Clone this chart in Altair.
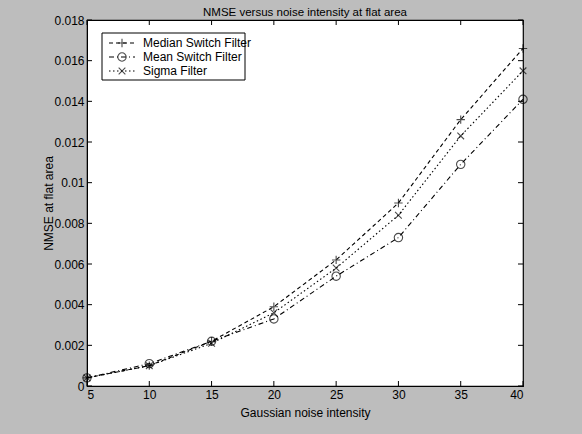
import altair as alt
import pandas as pd

# ---- data ----
noise = [5, 10, 15, 20, 25, 30, 35, 40]
median_switch = [0.0004, 0.0010, 0.0022, 0.0039, 0.0062, 0.0090, 0.0131, 0.0166]
mean_switch = [0.0004, 0.0011, 0.0022, 0.0033, 0.0054, 0.0073, 0.0109, 0.0141]
sigma_filter = [0.0004, 0.0010, 0.0021, 0.0036, 0.0058, 0.0084, 0.0123, 0.0155]
series_names = ["Median Switch Filter", "Mean Switch Filter", "Sigma Filter"]
x_ticks = [5, 10, 15, 20, 25, 30, 35, 40]
y_ticks = [0, 0.002, 0.004, 0.006, 0.008, 0.01, 0.012, 0.014, 0.016, 0.018]

rows = []
for name, vals in zip(series_names, [median_switch, mean_switch, sigma_filter]):
    for xv, yv in zip(noise, vals):
        rows.append({"noise": xv, "nmse": yv, "series": name})
df = pd.DataFrame(rows)

W, H = 436, 366
FONT = "Liberation Sans"

dashes = [[4, 3], [5, 3, 1, 3], [1.5, 2.5]]
plus = "M-1,0L1,0M0,-1L0,1"
cross = "M-0.8,-0.8L0.8,0.8M-0.8,0.8L0.8,-0.8"
shapes = [plus, "circle", cross]

xs = alt.Scale(domain=[5, 40], nice=False, zero=False)
ys = alt.Scale(domain=[0, 0.018], nice=False)

base = alt.Chart(df)
lines = base.mark_line(color="black", strokeWidth=1.1).encode(
    x=alt.X("noise:Q", scale=xs,
            axis=alt.Axis(values=x_ticks, ticks=False, title="Gaussian noise intensity",
                          labelPadding=3, titlePadding=7)),
    y=alt.Y("nmse:Q", scale=ys,
            axis=alt.Axis(values=y_ticks, ticks=False, title="NMSE at flat area",
                          labelExpr="datum.value == 0 ? '0' : format(datum.value, '.3~f')",
                          labelPadding=3, titlePadding=-2)),
    strokeDash=alt.StrokeDash("series:N", scale=alt.Scale(domain=series_names, range=dashes), legend=None),
    detail="series:N",
)
points = base.mark_point(color="black", filled=False, strokeWidth=1.1, size=70).encode(
    x=alt.X("noise:Q", scale=xs),
    y=alt.Y("nmse:Q", scale=ys),
    shape=alt.Shape("series:N", scale=alt.Scale(domain=series_names, range=shapes), legend=None),
)

# inward tick marks on all four sides (MATLAB style)
xt = pd.DataFrame({"noise": x_ticks})
yt = pd.DataFrame({"nmse": y_ticks})
xt_bottom = alt.Chart(xt).mark_rule(color="black").encode(
    x=alt.X("noise:Q", scale=xs), y=alt.value(H), y2=alt.value(H - 5))
xt_top = alt.Chart(xt).mark_rule(color="black").encode(
    x=alt.X("noise:Q", scale=xs), y=alt.value(0), y2=alt.value(5))
yt_left = alt.Chart(yt).mark_rule(color="black").encode(
    y=alt.Y("nmse:Q", scale=ys), x=alt.value(0), x2=alt.value(5))
yt_right = alt.Chart(yt).mark_rule(color="black").encode(
    y=alt.Y("nmse:Q", scale=ys), x=alt.value(W), x2=alt.value(W - 5))

# legend box
one = pd.DataFrame({"k": [0]})
legend_layers = [
    alt.Chart(one).mark_rect(fill="white", stroke="black", strokeWidth=1).encode(
        x=alt.value(15), x2=alt.value(158), y=alt.value(13), y2=alt.value(60))
]
for i, name in enumerate(series_names):
    yy = 23 + i * 14
    legend_layers.append(
        alt.Chart(one).mark_rule(color="black", strokeWidth=1.1, strokeDash=dashes[i]).encode(
            x=alt.value(22), x2=alt.value(48), y=alt.value(yy)))
    legend_layers.append(
        alt.Chart(one).mark_point(color="black", filled=False, strokeWidth=1.1, size=70,
                                  shape=shapes[i]).encode(
            x=alt.value(35), y=alt.value(yy)))
    legend_layers.append(
        alt.Chart(one).mark_text(align="left", baseline="middle", font=FONT, fontSize=12,
                                 color="black").encode(
            x=alt.value(56), y=alt.value(yy), text=alt.value(name)))

chart = alt.layer(
    lines, points, xt_bottom, xt_top, yt_left, yt_right, *legend_layers
).properties(
    width=W, height=H,
    title=alt.Title("NMSE versus noise intensity at flat area", font=FONT, fontSize=11.5,
                    fontWeight="normal", color="black", offset=-4),
    padding={"left": 87, "top": 20, "right": 59, "bottom": 48},
    autosize=alt.AutoSizeParams(type="none"),
).configure(
    background="#bdbdbd",
).configure_view(
    fill="white", stroke="black", strokeWidth=1.2,
).configure_axis(
    domainColor="black", labelColor="black", titleColor="black",
    labelFont=FONT, titleFont=FONT, labelFontSize=12, titleFontSize=12,
    titleFontWeight="normal", grid=False,
)

chart.save("out.html", embed_options={"renderer": "svg", "actions": False})
